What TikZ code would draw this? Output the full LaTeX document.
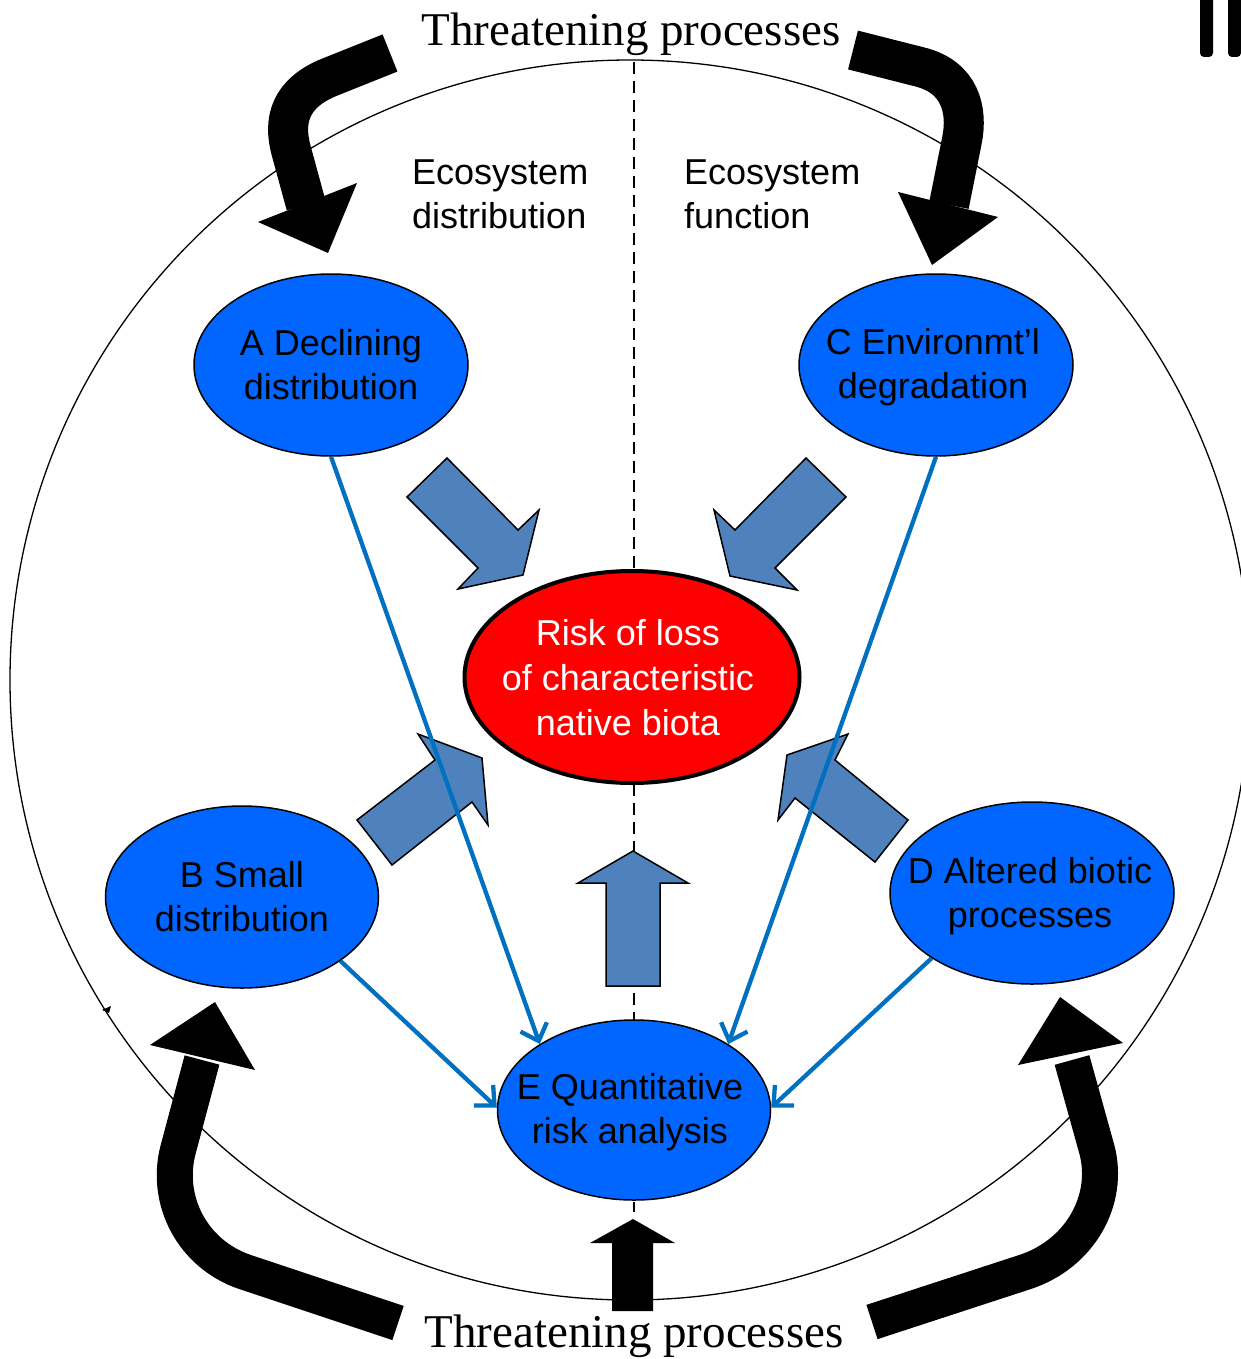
\documentclass[tikz,border=0pt]{standalone}
\usepackage{fontspec}
\setmainfont{Liberation Sans}
\newfontfamily\seriffont{Liberation Serif}
\usetikzlibrary{arrows.meta,shapes.geometric}
\definecolor{ellblue}{HTML}{0066FF}
\definecolor{blockblue}{HTML}{4F81BD}
\definecolor{lineblue}{HTML}{0070C0}
\begin{document}
\begin{tikzpicture}[x=1pt,y=-1pt,
  bell/.style={ellipse, draw=black, line width=1.5pt, fill=ellblue, inner sep=0pt},
  riskell/.style={ellipse, draw=black, line width=4pt, fill=red, inner sep=0pt},
  elltext/.style={inner sep=0pt, align=center, font=\fontsize{36}{44}\selectfont},
  risktext/.style={inner sep=0pt, align=center, text=white, font=\fontsize{36}{45}\selectfont},
  sidetext/.style={anchor=west, inner sep=0pt, align=left, font=\fontsize{36}{44}\selectfont},
  threat/.style={inner sep=0pt, anchor=base, font=\seriffont\fontsize{47}{50}\selectfont},
  bigshaft/.style={draw=black, line width=40pt},
  smallshaft/.style={draw=black, line width=36pt},
  blockarrow/.style={fill=blockblue, draw=black, line width=1.5pt, line join=miter},
  link/.style={draw=lineblue, line width=4.3pt, -{Straight Barb[length=15pt,width=28pt,line width=4.3pt]}},
  divider/.style={draw=black, line width=1.5pt, dash pattern=on 12pt off 7pt}
]
\useasboundingbox (0,0) rectangle (1241,1359);
\clip (0,0) rectangle (1241,1359);

% big circle
\draw[line width=1.3pt] (630,680) circle[radius=620];
% tiny mark on circle
\fill (102,1010) -- (111,1006) -- (109,1013) -- cycle;

% dashed divider
\coordinate (dtop) at (634,62);
\coordinate (dbot) at (634,1212);
\draw[divider] (dtop) -- (dbot);

% top-right mark
\fill[rounded corners=4pt] (1200,-5) rectangle (1213,57);
\fill[rounded corners=4pt] (1228,-5) rectangle (1241,57);

% texts
\node[threat] (ttop) at (631,46) {Threatening processes};
\node[threat] (tbot) at (634,1347) {Threatening processes};
\node[sidetext] (edist) at (412,194) {Ecosystem\\distribution};
\node[sidetext] (efunc) at (684,194) {Ecosystem\\function};

% black curved arrows
\draw[bigshaft] (390,53) -- (330,77) .. controls (290,93) and (283,120) .. (291,150) -- (306,205);
\fill (258,222) -- (357,183) -- (328,253) -- cycle;
\draw[bigshaft] (853,50) -- (920,67) .. controls (960,77) and (968,110) .. (962,140) -- (949,205);
\fill (898,192) -- (998,217) -- (932,265) -- cycle;
\draw[smallshaft] (398,1323) -- (245,1272) .. controls (192,1254) and (165,1200) .. (178,1150) -- (202,1060);
\fill (150,1045) -- (215,1002) -- (255,1070) -- cycle;
\draw[smallshaft] (872,1322) -- (1025,1272) .. controls (1080,1254) and (1110,1200) .. (1097,1150) -- (1072,1060);
\fill (1018,1065) -- (1060,997) -- (1123,1043) -- cycle;
% bottom centre black arrow
\fill (612,1311) -- (612,1243) -- (590,1243) -- (633,1219) -- (675,1243) -- (653,1243) -- (653,1311) -- cycle;

% ellipses
\node[bell, minimum width=274pt, minimum height=182pt] (A) at (331,365) {};
\node[elltext] (At) at (A) {A Declining\\distribution};
\node[bell, minimum width=274pt, minimum height=182pt] (C) at (936,365) {};
\node[elltext] (Ct) at (933,367) {C Environmt’l\\degradation};
\node[bell, minimum width=273pt, minimum height=182pt] (B) at (242,897) {};
\node[elltext] (Bt) at (B) {B Small\\distribution};
\node[bell, minimum width=284pt, minimum height=182pt] (D) at (1032,893) {};
\node[elltext] (Dt) at (1030,896) {D Altered biotic\\processes};
\node[bell, minimum width=273pt, minimum height=180pt] (E) at (634,1110) {};
\node[elltext] (Et) at (630,1112) {E Quantitative\\risk analysis};
\node[riskell, minimum width=335pt, minimum height=212pt] (R) at (632,677) {};
\node[risktext] (Rt) at (628,678) {Risk of loss\\of characteristic\\native biota};

% block arrows
\draw[blockarrow] (447,458) -- (518,530) -- (539,510) -- (523,575) -- (458,589) -- (478,568) -- (407,497) -- cycle;
\draw[blockarrow] (806,458) -- (735,530) -- (714,510) -- (730,576) -- (797,590) -- (775,568) -- (846,497) -- cycle;
\draw[blockarrow] (357,820) -- (392,865) -- (472,802) -- (488,825) -- (482,758) -- (418,734) -- (435,760) -- cycle;
\draw[blockarrow] (908,820) -- (875,862) -- (795,798) -- (778,820) -- (787,755) -- (848,734) -- (835,760) -- cycle;
\draw[blockarrow] (633,851) -- (688,883) -- (660,883) -- (660,986) -- (606,986) -- (606,883) -- (578,883) -- cycle;

% blue connectors
\draw[link] (A.south) -- (E.145);
\draw[link] (C.south) -- (E.35);
\draw[link] (B.-33) -- (E.179);
\draw[link] (D.213) -- (E.1);
\end{tikzpicture}
\end{document}
